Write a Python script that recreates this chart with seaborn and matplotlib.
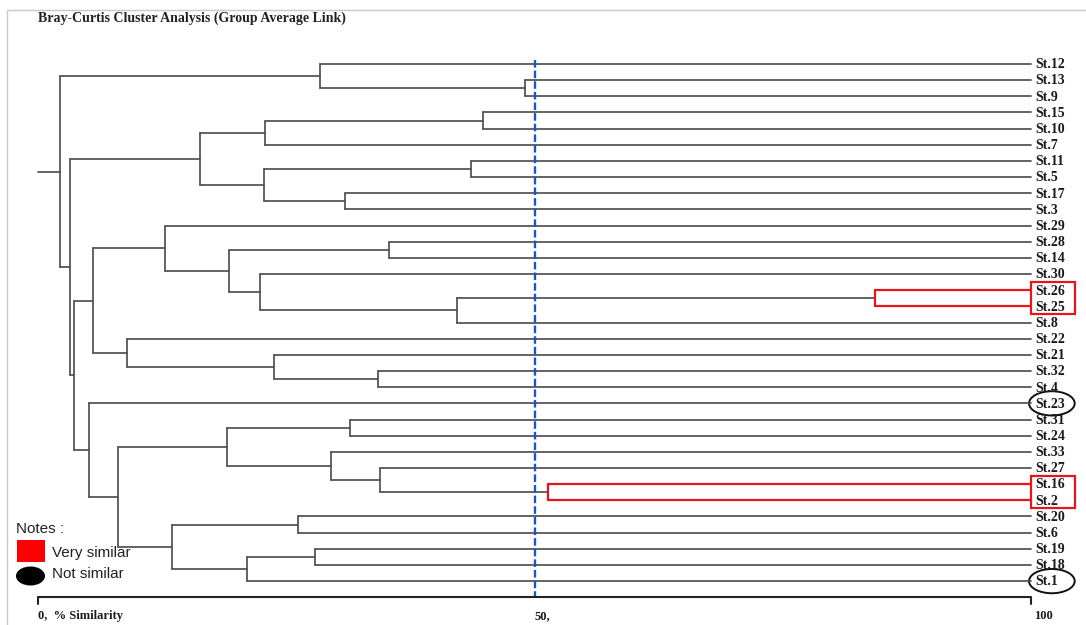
import numpy as np
import pandas as pd
import matplotlib
matplotlib.use("Agg")
import matplotlib.pyplot as plt
import seaborn as sns
from matplotlib.patches import Rectangle, Ellipse

# ---------------- data ----------------
title = "Bray-Curtis Cluster Analysis (Group Average Link)"
leaves = ["St.12", "St.13", "St.9", "St.15", "St.10", "St.7", "St.11", "St.5",
          "St.17", "St.3", "St.29", "St.28", "St.14", "St.30", "St.26", "St.25",
          "St.8", "St.22", "St.21", "St.32", "St.4", "St.23", "St.31", "St.24",
          "St.33", "St.27", "St.16", "St.2", "St.20", "St.6", "St.19", "St.18", "St.1"]

node_names = ["A", "B", "C", "D", "E", "F", "G", "H", "Q", "P", "O", "N", "M", "L",
              "T", "S", "R", "K", "X", "RZ", "Z", "Y", "W", "AB", "AD", "AC", "AA",
              "V", "U", "J", "I", "ROOT"]
node_left = ["St.13", "St.12", "St.15", "C", "St.11", "St.17", "E", "D", "St.26", "Q",
             "St.30", "St.28", "N", "St.29", "St.32", "St.21", "St.22", "L", "St.31",
             "St.16", "St.27", "St.33", "X", "St.20", "St.19", "AD", "AB", "W", "St.23",
             "K", "H", "B"]
node_right = ["St.9", "A", "St.10", "St.7", "St.5", "St.3", "F", "G", "St.25", "St.8",
              "P", "St.14", "O", "M", "St.4", "T", "S", "R", "St.24", "St.2", "RZ", "Z",
              "Y", "St.6", "St.18", "St.1", "AC", "AA", "V", "U", "J", "I"]
node_sim = [49.0, 28.4, 44.8, 22.9, 43.6, 30.9, 22.8, 16.3, 84.3, 42.2, 22.4, 35.3,
            19.2, 12.8, 34.2, 23.8, 9.0, 5.5, 31.4, 51.4, 34.4, 29.5, 19.0, 26.2,
            27.9, 21.0, 13.5, 8.1, 5.1, 3.6, 3.2, 2.2]

very_similar_nodes = ["Q", "RZ"]
not_similar_leaves = ["St.23", "St.1"]
cut_value = 50
tick_values = [0, 50, 100]
tick_labels = ["0,  % Similarity", "50,", "100"]
legend_title = "Notes :"
legend_labels = ["Very similar", "Not similar"]

# ---------------- layout ----------------
W, H = 1086, 625
PX0, PXU = 38.0, 9.93      # px of 0 similarity, px per unit
PY0, PYU = 64.0, 16.16     # px of first leaf, px per leaf

sns.set_theme(style="white")
plt.rcParams["font.family"] = ["Liberation Serif", "DejaVu Serif"]

fig = plt.figure(figsize=(W / 100, H / 100), dpi=100)
ax = fig.add_axes([0, 0, 1, 1])

# positions
pos = {lf: (100.0, float(i)) for i, lf in enumerate(leaves)}
segs = []
for nm, l, r, s in zip(node_names, node_left, node_right, node_sim):
    xl, yl = pos[l]
    xr, yr = pos[r]
    pos[nm] = (s, (yl + yr) / 2)
    kind = "red" if nm in very_similar_nodes else "grey"
    segs.append(([s, s], [yl, yr], kind))
    segs.append(([s, xl], [yl, yl], kind))
    segs.append(([s, xr], [yr, yr], kind))
root_x, root_y = pos["ROOT"]
segs.append(([0, root_x], [root_y, root_y], "grey"))

rows = []
for k, (xs, ys, kind) in enumerate(segs):
    for x, y in zip(xs, ys):
        rows.append({"seg": k, "x": x, "y": y, "kind": kind})
df = pd.DataFrame(rows)

sns.lineplot(data=df[df.kind == "grey"], x="x", y="y", units="seg", estimator=None,
             sort=False, color="#505050", linewidth=1.25, ax=ax, legend=False)
sns.lineplot(data=df[df.kind == "red"], x="x", y="y", units="seg", estimator=None,
             sort=False, color="#e8141b", linewidth=1.6, ax=ax, legend=False)
ax.axis("off")
ax.set_xlim(-PX0 / PXU, (W - PX0) / PXU)
ax.set_ylim((H - PY0) / PYU, -PY0 / PYU)

# leaf labels
for i, lf in enumerate(leaves):
    ax.text(100.45, i + 0.05, lf, ha="left", va="center", fontsize=10,
            fontweight="bold", color="#1a1a1a")

# red boxes around very similar pairs
for nm in very_similar_nodes:
    idx = [leaves.index(node_left[node_names.index(nm)]),
           leaves.index(node_right[node_names.index(nm)])]
    ax.add_patch(Rectangle((100.0, min(idx) - 0.5), 4.4, abs(idx[1] - idx[0]) + 0.95,
                           fill=False, edgecolor="#e8141b", linewidth=1.6))

# ellipses around not similar
for lf in not_similar_leaves:
    i = leaves.index(lf)
    ax.add_patch(Ellipse((102.1, i), 4.6, 1.5, fill=False, edgecolor="#111111",
                         linewidth=1.4))

# cut line
ax.plot([cut_value, cut_value], [-0.25, 33.0], color="#1b55c0", linewidth=1.7,
        linestyle=(0, (3.2, 1.3)))

# bottom axis
ax.plot([tick_values[0], tick_values[0], tick_values[-1], tick_values[-1]],
        [33.4, 33.0, 33.0, 33.4], color="#222222", linewidth=1.5)
for v, lab in zip(tick_values, tick_labels):
    ax.text(v - 0.05 + (0.4 if v == 100 else 0), 34.15, lab, ha="left", va="center",
            fontsize=9, fontweight="bold", color="#1a1a1a")

# title
fig.text(38 / W, 1 - 18 / H, title, ha="left", va="center", fontsize=10,
         fontweight="bold", color="#222222")

# frame lines of original image
fig.add_artist(plt.Line2D([7 / W, 7 / W, 1], [0, 1 - 10 / H, 1 - 10 / H],
                          transform=fig.transFigure, color="#c8c8c8", linewidth=1.0))

# legend
sans = ["Liberation Sans", "DejaVu Sans"]
fig.text(16 / W, 1 - 529 / H, legend_title, ha="left", va="center", fontsize=11,
         family=sans, color="#222222")
fig.add_artist(Rectangle((17 / W, 1 - 562 / H), 28 / W, 22 / H,
                         transform=fig.transFigure, facecolor="#ff0000",
                         edgecolor="none"))
fig.text(52 / W, 1 - 553 / H, legend_labels[0], ha="left", va="center", fontsize=11,
         family=sans, color="#222222")
fig.add_artist(Ellipse((30.5 / W, 1 - 576 / H), 29 / W, 19 / H,
                       transform=fig.transFigure, facecolor="#000000",
                       edgecolor="none"))
fig.text(52 / W, 1 - 574 / H, legend_labels[1], ha="left", va="center", fontsize=11,
         family=sans, color="#222222")

fig.savefig("out.png", dpi=100)
